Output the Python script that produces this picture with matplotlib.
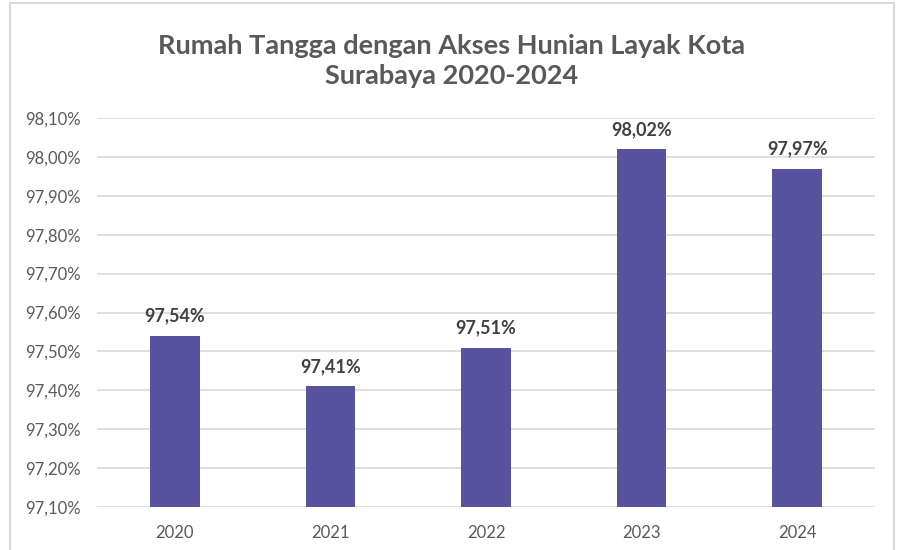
import matplotlib.pyplot as plt
from matplotlib.patches import Rectangle
from matplotlib.ticker import FuncFormatter

plt.rcParams['font.family'] = ['Lato', 'DejaVu Sans']

# data
years = ['2020', '2021', '2022', '2023', '2024']
values = [97.54, 97.41, 97.51, 98.02, 97.97]
y_ticks = [97.1, 97.2, 97.3, 97.4, 97.5, 97.6, 97.7, 97.8, 97.9, 98.0, 98.1]

bar_color = '#58539f'
text_color = '#595959'
grid_color = '#d9d9d9'

fig = plt.figure(figsize=(9.04, 5.5), dpi=100)
fig.patch.set_facecolor('white')

# chart border
fig.add_artist(Rectangle((10 / 904, -0.05), 884 / 904, 1.0 - 3 / 550 + 0.05,
                         transform=fig.transFigure, facecolor='none',
                         edgecolor=grid_color, linewidth=1.5))

ax = fig.add_axes([97 / 904, 1 - 507 / 550, 778 / 904, (507 - 118) / 550])
x = range(len(years))
bars = ax.bar(x, values, width=0.32, color=bar_color, zorder=3)

ax.set_ylim(97.1, 98.1)
ax.set_xlim(-0.5, len(years) - 0.5)
ax.set_yticks(y_ticks)
ax.yaxis.set_major_formatter(FuncFormatter(lambda v, p: f'{v:.2f}%'.replace('.', ',')))
ax.set_xticks(list(x))
ax.set_xticklabels(years)
ax.grid(axis='y', color=grid_color, linewidth=1.2, zorder=0)
ax.tick_params(axis='both', length=0, colors=text_color, labelsize=12)
ax.tick_params(axis='x', pad=13)
ax.tick_params(axis='y', pad=12)
for s in ax.spines.values():
    s.set_visible(False)

# value labels
for xi, v in zip(x, values):
    ax.annotate(f'{v:.2f}%'.replace('.', ','), (xi, v), xytext=(0, 8),
                textcoords='offset points', ha='center', va='bottom',
                fontsize=13, fontweight='bold', color='#404040')

fig.text(0.5, 0.889, 'Rumah Tangga dengan Akses Hunian Layak Kota\nSurabaya 2020-2024',
         ha='center', va='center', fontsize=19.5, fontweight='bold', color=text_color,
         linespacing=1.3)

fig.savefig('out.png', dpi=100)
